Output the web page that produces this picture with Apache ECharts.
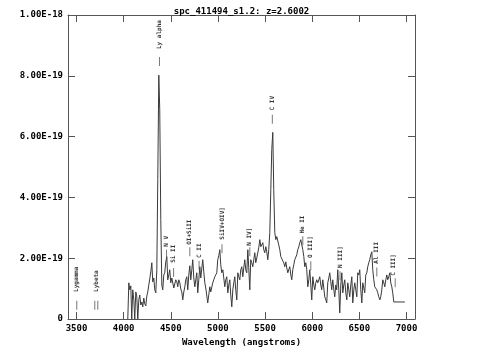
<!DOCTYPE html>
<html><head><meta charset="utf-8">
<script src="https://cdn.jsdelivr.net/npm/echarts@6/dist/echarts.min.js"></script>
<style>html,body{margin:0;padding:0;background:#fff}#c{width:483px;height:358px}</style>
</head><body><div id="c"></div>
<script>
const titleText = 'spc_411494_s1.2: z=2.6002';
const xTicks = [3500,4000,4500,5000,5500,6000,6500,7000];
const yTicks = [0,2,4,6,8,10]; // in units of 1e-19
const wavelength = [
4044,4055,4065,4076,4086,4097,4108,4118,4129,4139,
4150,4161,4171,4182,4193,4203,4214,4224,4235,4246,
4256,4267,4277,4288,4299,4309,4320,4330,4341,4352,
4362,4373,4383,4394,4405,4415,4426,4436,4447,4458,
4468,4479,4489,4500,4511,4521,4532,4542,4553,4564,
4574,4585,4596,4606,4617,4627,4638,4649,4659,4670,
4680,4691,4702,4712,4723,4733,4744,4755,4765,4776,
4786,4797,4808,4818,4829,4839,4850,4861,4871,4882,
4892,4903,4914,4924,4935,4945,4956,4967,4977,4988,
4998,5009,5020,5030,5041,5052,5062,5073,5083,5094,
5105,5115,5126,5136,5147,5158,5168,5179,5189,5200,
5211,5221,5232,5242,5253,5264,5274,5285,5295,5306,
5317,5327,5338,5348,5359,5370,5380,5391,5401,5412,
5423,5433,5444,5455,5465,5476,5486,5497,5508,5518,
5529,5539,5550,5561,5571,5582,5592,5603,5614,5624,
5635,5645,5656,5667,5677,5688,5698,5709,5720,5730,
5741,5751,5762,5773,5783,5794,5804,5815,5826,5836,
5847,5858,5868,5879,5889,5900,5911,5921,5932,5942,
5953,5964,5974,5985,5995,6006,6017,6027,6038,6048,
6059,6070,6080,6091,6101,6112,6123,6133,6144,6154,
6165,6176,6186,6197,6207,6218,6229,6239,6250,6260,
6271,6282,6292,6303,6314,6324,6335,6345,6356,6367,
6377,6388,6398,6409,6420,6430,6441,6451,6462,6473,
6483,6494,6504,6515,6526,6536,6547,6557,6568,6579,
6589,6600,6610,6621,6632,6642,6653,6663,6674,6685,
6695,6706,6717,6727,6738,6748,6759,6770,6780,6791,
6801,6812,6823,6833,6844,6854,6865,6982];
// flux in units of 1e-19
const flux = [
0,1.19,0.96,1.09,0,0.96,0.63,0,0.89,0.76,
0,0.63,0.79,0.46,0.56,0.40,0.69,0.50,0.43,0.76,
0.89,1.12,1.32,1.55,1.85,1.22,1.35,0.96,0.86,1.62,
4.59,8.02,6.90,3.27,1.12,0.96,1.45,1.52,1.88,2.05,
1.29,1.45,1.62,1.19,1.35,1.39,1.02,0.96,1.29,1.22,
1.06,1.29,1.19,0.99,0.89,0.63,0.89,1.06,1.29,1.39,
0.96,1.45,1.75,1.29,1.62,1.95,1.35,1.06,1.29,1.52,
0.86,1.29,1.72,1.35,1.29,1.95,1.55,1.19,1.02,0.96,
0.53,0.79,1.06,0.89,0.86,1.19,1.29,1.39,1.45,1.52,
1.95,2.08,2.28,1.78,1.52,1.62,1.35,1.06,1.29,1.39,
0.86,1.12,1.29,0.79,0.40,0.96,1.19,1.39,0.96,0.63,
1.52,1.39,1.29,1.62,1.72,1.39,1.68,1.95,1.62,1.52,
2.28,1.68,0.96,1.95,1.85,1.72,1.95,2.18,1.85,2.01,
2.05,2.34,2.61,2.38,2.44,2.51,2.28,2.18,2.38,2.21,
1.95,2.28,2.84,4.26,5.58,6.14,4.26,2.84,2.61,2.71,
2.71,2.44,2.28,2.05,2.01,2.11,1.85,1.72,1.88,1.68,
1.52,1.62,1.72,1.45,1.29,1.62,1.78,1.95,2.01,2.11,
2.28,2.38,2.51,2.61,2.61,2.28,2.05,1.72,1.85,1.62,
1.06,1.29,1.62,1.12,0.63,1.39,1.12,0.96,1.19,1.29,
1.19,1.29,1.39,1.12,0.96,1.29,1.02,0.73,0.63,0.53,
1.19,1.35,1.52,1.22,0.96,1.29,0.96,0.73,1.12,0.96,
1.62,0.96,0.20,1.12,1.52,0.86,1.12,1.29,0.86,0.63,
1.19,0.96,0.73,1.12,1.39,0.53,0.96,1.19,0.96,0.73,
1.52,1.45,1.62,0.96,0.53,1.19,1.02,0.86,1.45,1.52,
1.72,1.85,1.95,2.11,2.21,1.62,1.29,1.06,1.02,0.96,
0.86,0.73,0.63,0.73,0.96,1.29,1.19,1.06,1.29,1.45,
1.29,1.39,1.52,1.19,1.06,0.86,0.56,0.56];

// line identifications
const lineNames = ['Lygamma','Lybeta','Ly alpha','N V','Si II','OI+SiII','C II','SiIV+OIV]','N IV]','C IV','He II','O III]','N III]','Al III','C III]'];
const lineLabelWave = [3503,3710,4380,4455,4530,4702,4800,5043,5338,5577,5900,5985,6295,6685,6862];
const lineLabelFlux = [0.89,0.89,8.88,2.38,1.85,2.44,2.01,2.61,2.41,6.86,2.81,2.01,1.68,1.82,1.42];
const markWave = [3503,3694,3726,4380,4455,4530,4702,4800,5043,5338,5577,5900,5985,6295,6685,6880];
const markFlux = [0.45,0.45,0.45,8.47,2.13,1.53,2.21,1.77,2.31,2.21,6.57,2.57,1.75,1.42,1.55,1.19];

const font = 'DejaVu Sans Mono';
const chart = echarts.init(document.getElementById('c'));
const axisCol = '#555';
function fmtY(v){ return v === 0 ? '0' : (v*1e-19).toExponential(2).toUpperCase(); }
const xCommon = {type:'value', min:3410, max:7090, splitLine:{show:false},
  axisLine:{show:true, onZero:false, lineStyle:{color:axisCol, width:1}},
  axisTick:{show:true, inside:true, length:7, customValues:xTicks, lineStyle:{color:axisCol}}};
const yCommon = {type:'value', min:0, max:10, interval:2, splitLine:{show:false},
  axisLine:{show:true, onZero:false, lineStyle:{color:axisCol, width:1}},
  axisTick:{show:true, inside:true, length:7, lineStyle:{color:axisCol}}};
chart.setOption({
  animation:false,
  backgroundColor:'#fff',
  title:{text:titleText, left:'center', top:2, textStyle:{fontFamily:font, fontWeight:'bold', fontSize:9, color:'#000'}},
  grid:{left:68, right:68, top:15, bottom:39},
  xAxis:[
    Object.assign({}, xCommon, {position:'bottom', name:'Wavelength (angstroms)', nameLocation:'middle', nameGap:19,
      nameTextStyle:{fontFamily:font, fontWeight:'bold', fontSize:9, color:'#000'},
      axisLabel:{customValues:xTicks, formatter:v=>String(v), margin:5, fontFamily:font, fontWeight:'bold', fontSize:9, color:'#000'}}),
    Object.assign({}, xCommon, {position:'top', axisLabel:{show:false}})
  ],
  yAxis:[
    Object.assign({}, yCommon, {position:'left', axisLabel:{formatter:fmtY, margin:5, fontFamily:font, fontWeight:'bold', fontSize:9, color:'#000'}}),
    Object.assign({}, yCommon, {position:'right', axisLabel:{show:false}})
  ],
  series:[
    {type:'line', data:wavelength.map((w,i)=>[w, flux[i]]), showSymbol:false, symbol:'none',
     lineStyle:{color:'#3a3a3a', width:1}, xAxisIndex:0, yAxisIndex:0, z:3},
    {type:'scatter', data:markWave.map((w,i)=>[w, markFlux[i]]), symbol:'rect', symbolSize:[1,9],
     itemStyle:{color:'#555'}, xAxisIndex:0, yAxisIndex:0, z:4},
    {type:'scatter', data:lineLabelWave.map((w,i)=>({value:[w, lineLabelFlux[i]], name:lineNames[i]})), symbolSize:0,
     xAxisIndex:0, yAxisIndex:0, z:5,
     label:{show:true, position:'inside', rotate:90, align:'left', verticalAlign:'middle',
       formatter:p=>p.name, fontFamily:font, fontWeight:'bold', fontSize:6, color:'#000'}}
  ]
});
</script></body></html>
